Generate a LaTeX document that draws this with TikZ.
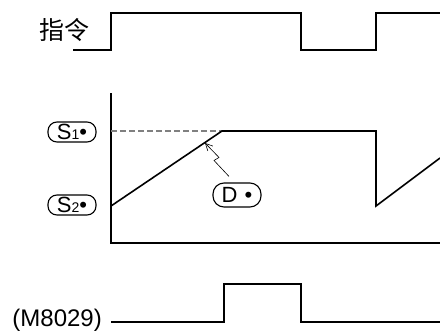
\documentclass[tikz,border=0pt]{standalone}
\usepackage{fontspec}
\setmainfont{Liberation Sans}
\newfontfamily\cjk{Noto Sans CJK SC}
\usetikzlibrary{arrows.meta,positioning}

\begin{document}
\begin{tikzpicture}[
    x=1pt,
    y=-1pt,
    every node/.style={font=\fontsize{24}{26}\selectfont, inner sep=0pt},
    signal/.style={
        line width=1.6pt,
        line join=miter
    },
    axis/.style={
        line width=1.6pt
    },
    guide/.style={
        gray,
        line width=1.4pt,
        dash pattern=on 6pt off 3pt
    },
    operand/.style={
        rectangle,
        rounded corners=9pt,
        draw,
        line width=1.1pt,
        minimum width=48pt,
        minimum height=20pt,
        font=\fontsize{22}{24}\selectfont
    },
    bolt/.style={
        -{Straight Barb[length=7pt,width=7pt]},
        line width=0.6pt
    }
]
\useasboundingbox (0,0) rectangle (440,333);

% command signal
\node[font=\cjk\fontsize{25}{27}\selectfont] (cmd) at (64,30) {指令};
\draw[signal] (73,50) -- (111,50) -- (111,13) -- (301,13) -- (301,50)
    -- (376,50) -- (376,13) -- (440,13);

% output value
\draw[axis] (111,93) -- (111,243) -- (440,243);
\node[operand] (s1) at (72,132) {S{\fontsize{14}{15}\selectfont 1}\textbullet};
\node[operand] (s2) at (72,205) {S{\fontsize{14}{15}\selectfont 2}\textbullet};
\node[operand, minimum height=24pt, rounded corners=11pt] (dst) at (237,195) {D\,\,\textbullet};
\coordinate (top) at (222,131);
\draw[guide] (111,131) -- (top);
\draw[signal] (111,206) -- (top) -- (376,131) -- (376,206) -- (440,158);
\coordinate (hit) at (205,143);
\draw[bolt] ([xshift=-8pt,yshift=6pt]dst.north) -- ++(-15,-16) -- ++(5,-3) -- (hit);

% completion flag
\node[anchor=east] (flag) at (102,320) {(M8029)};
\draw[signal] (111,322) -- (224,322) -- (224,284) -- (301,284) -- (301,322) -- (440,322);

\end{tikzpicture}
\end{document}
